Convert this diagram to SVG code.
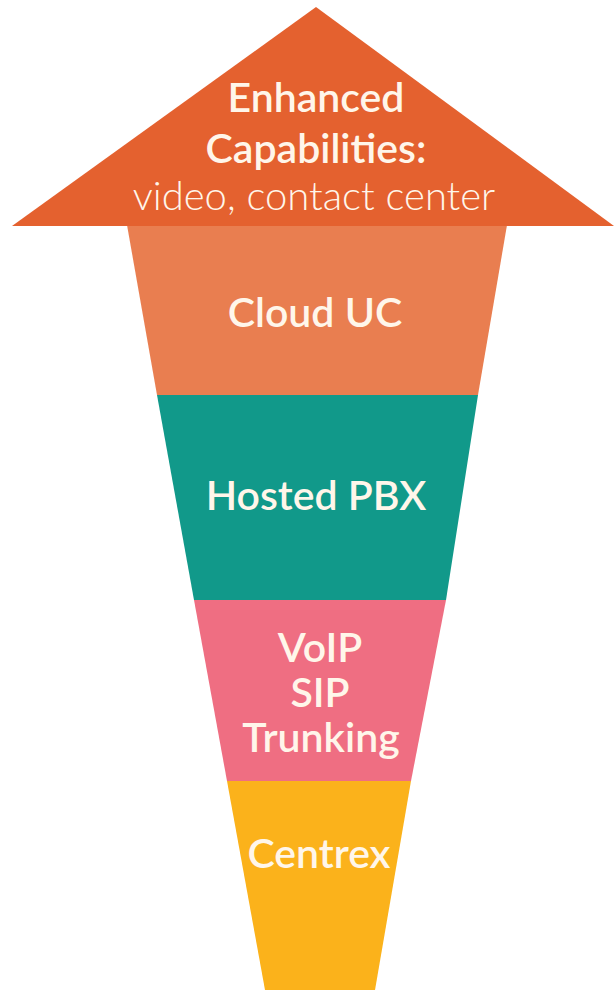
<svg xmlns="http://www.w3.org/2000/svg" width="615" height="992" viewBox="0 0 615 992">
<style>
.t{font-family:Lato,"Open Sans","Liberation Sans",sans-serif;font-size:41px;font-weight:600;fill:#FFF6EA;text-anchor:middle}
.l{font-weight:300;font-size:40px}
</style>
<rect width="615" height="992" fill="#FFFFFF"/>
<g id="centrex">
<polygon points="227,781 411,781 375,990 265,990" fill="#FBB21B"/>
<text class="t" x="319" y="868">Centrex</text>
</g>
<g id="voip">
<polygon points="194,600 446,600 411,781 227,781" fill="#EF6E82"/>
<text class="t" x="320" y="662">VoIP</text>
<text class="t" x="320" y="707">SIP</text>
<text class="t" x="321" y="752">Trunking</text>
</g>
<g id="hosted-pbx">
<polygon points="157,395 478,395 446,600 194,600" fill="#11998A"/>
<text class="t" x="316" y="510">Hosted PBX</text>
</g>
<g id="cloud-uc">
<polygon points="127,225 507,225 478,395 157,395" fill="#E97E50"/>
<text class="t" x="315" y="327">Cloud UC</text>
</g>
<g id="enhanced">
<polygon points="316,7 614,226 12,226" fill="#E4612F"/>
<text class="t" x="316" y="112">Enhanced</text>
<text class="t" x="316" y="163">Capabilities:</text>
<text class="t l" x="314" y="210">video, contact center</text>
</g>
<g id="connectors"/>
</svg>
